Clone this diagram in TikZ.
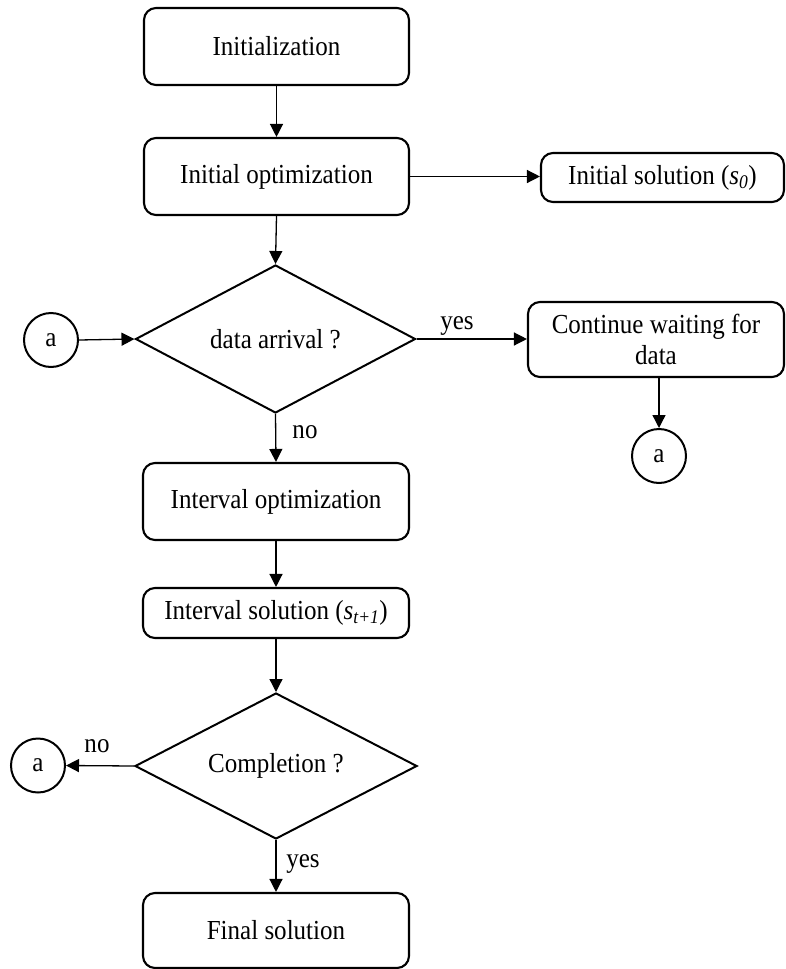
\documentclass[tikz,border=0pt]{standalone}
\usepackage{fontspec}
\setmainfont{Liberation Serif}[FakeStretch=0.91]
\usetikzlibrary{shapes.geometric,arrows.meta}

\begin{document}
\begin{tikzpicture}[x=1pt,y=-1pt,
  font=\fontsize{27.5}{31}\selectfont,
  procbox/.style={draw, line width=2.1pt, rounded corners=12pt, inner sep=0pt, align=center},
  decision/.style={draw, line width=2pt, shape=diamond, inner sep=0pt, aspect=1.9},
  connector/.style={draw, line width=2pt, circle, inner sep=0pt, minimum size=54pt},
  flow/.style={line width=1.3pt, -{Triangle[length=13pt,width=13pt]}},
  tag/.style={inner sep=0pt}
]
\useasboundingbox (0,0) rectangle (786,969);

% main column
\node[procbox, minimum width=265pt, minimum height=77pt] (init) at (276.5,46.5) {Initialization};
\node[procbox, minimum width=265pt, minimum height=77pt] (iopt) at (276.5,176.5) {Initial optimization};
\node[procbox, minimum width=243pt, minimum height=49pt] (isol) at (662.5,177.5)
  {Initial solution (\textit{s}\textsubscript{\textit{0}})};

\node[decision, minimum width=280pt, minimum height=148pt] (arrive) at (275.5,339) {data arrival ?};
\node[connector] (ain) at (51,340) {a};
\node[procbox, minimum width=256pt, minimum height=75pt] (wait) at (656,339.5)
  {Continue waiting for\\data};
\node[connector] (await) at (659,456) {a};

\node[procbox, minimum width=266pt, minimum height=77pt] (ivopt) at (276,501.5) {Interval optimization};
\node[procbox, minimum width=266pt, minimum height=50pt] (ivsol) at (276,613)
  {Interval solution (\textit{s}\textsubscript{\textit{t+1}})};

\node[decision, minimum width=282pt, minimum height=146pt] (done) at (276,766) {Completion ?};
\node[connector] (aout) at (38,765.5) {a};
\node[procbox, minimum width=266pt, minimum height=75pt] (final) at (276,930.5) {Final solution};

% connectors
\draw[flow] (init.south) -- (iopt.north);
\draw[flow] (iopt.east) -- (isol.west |- iopt.east);
\draw[flow] (iopt.south) -- (arrive.north);
\draw[flow] (ain.east) -- (arrive.west);
\draw[flow] (arrive.east) -- (wait.west |- arrive.east);
\draw[flow] (await.north |- wait.south) -- (await.north);
\draw[flow] (arrive.south) -- (ivopt.north);
\draw[flow] (ivopt.south) -- (ivsol.north);
\draw[flow] (ivsol.south) -- (done.north);
\draw[flow] (done.west) -- (aout.east);
\draw[flow] (done.south) -- (final.north);

% branch labels
\node[tag] (yes1) at (457,326) {yes};
\node[tag] (no1) at (305,432) {no};
\node[tag] (no2) at (97,746) {no};
\node[tag] (yes2) at (303,864) {yes};
\end{tikzpicture}
\end{document}
